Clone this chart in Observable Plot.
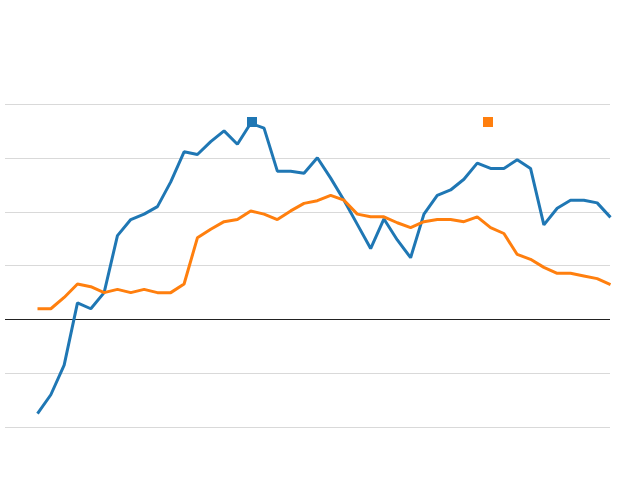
<!DOCTYPE html>
<html>
<head>
<meta charset="utf-8">
<script src="https://cdn.jsdelivr.net/npm/d3@7"></script>
<script src="https://cdn.jsdelivr.net/npm/@observablehq/plot@0.6"></script>
<style>
  html, body { margin: 0; padding: 0; background: #fff; }
  #wrap { position: relative; width: 640px; height: 480px; font-family: "Liberation Sans", Arial, sans-serif; }
  #legend { position: absolute; left: 0; top: 0; width: 640px; height: 0; }
  .sw { position: absolute; width: 10px; height: 10px; top: 117px; }
</style>
</head>
<body>
<div id="wrap">
  <div id="chart"></div>
  <div id="legend"></div>
</div>
<script>
const years = [1975,1976,1977,1978,1979,1980,1981,1982,1983,1984,1985,1986,1987,1988,1989,
  1990,1991,1992,1993,1994,1995,1996,1997,1998,1999,2000,2001,2002,2003,2004,
  2005,2006,2007,2008,2009,2010,2011,2012,2013,2014,2015,2016,2017,2018];

const seriesA = [-17.5,-14.0,-8.5,3.1,2.0,5.0,15.6,18.6,19.6,21.0,
  25.6,31.2,30.7,33.1,35.1,32.6,36.5,35.6,27.6,27.6,
  27.2,30.1,26.3,22.2,17.7,13.2,18.7,14.8,11.5,19.6,
  23.1,24.1,26.1,29.1,28.1,28.1,29.7,28.1,17.6,20.7,
  22.2,22.2,21.7,19.0];

const seriesB = [2.0,2.0,4.1,6.6,6.1,5.0,5.6,5.0,5.6,5.0,
  5.0,6.6,15.2,16.8,18.2,18.6,20.2,19.6,18.6,20.2,
  21.6,22.1,23.1,22.2,19.6,19.1,19.1,18.0,17.1,18.2,
  18.6,18.6,18.2,19.1,17.1,16.0,12.1,11.2,9.7,8.6,
  8.6,8.1,7.6,6.5];

const seriesNames = ["Series A", "Series B"];
const seriesColors = ["#1f77b4", "#ff7f0e"];
const gridTicks = [-20, -10, 10, 20, 30, 40];

const rows = [];
years.forEach((yr, i) => {
  rows.push({year: yr, value: seriesA[i], series: seriesNames[0]});
  rows.push({year: yr, value: seriesB[i], series: seriesNames[1]});
});

const chart = Plot.plot({
  width: 640,
  height: 480,
  marginLeft: 5,
  marginRight: 30,
  marginTop: 104,
  marginBottom: 53,
  x: {domain: [years[0], years[years.length - 1]], range: [37, 610], axis: null},
  y: {domain: [-20, 40], range: [426.5, 104], axis: null},
  color: {domain: seriesNames, range: seriesColors},
  marks: [
    Plot.ruleY(gridTicks, {stroke: "#d9d9d9", strokeWidth: 1, shapeRendering: "crispEdges"}),
    Plot.ruleY([0], {stroke: "#222", strokeWidth: 1, shapeRendering: "crispEdges"}),
    Plot.line(rows, {x: "year", y: "value", z: "series", stroke: "series", strokeWidth: 3, strokeLinejoin: "miter", strokeLinecap: "butt"})
  ]
});
document.getElementById("chart").appendChild(chart);

const legend = document.getElementById("legend");
const swatchLeft = [247, 483];
seriesNames.forEach((name, i) => {
  const s = document.createElement("div");
  s.className = "sw";
  s.title = name;
  s.style.left = swatchLeft[i] + "px";
  s.style.background = seriesColors[i];
  legend.appendChild(s);
});
</script>
</body>
</html>
